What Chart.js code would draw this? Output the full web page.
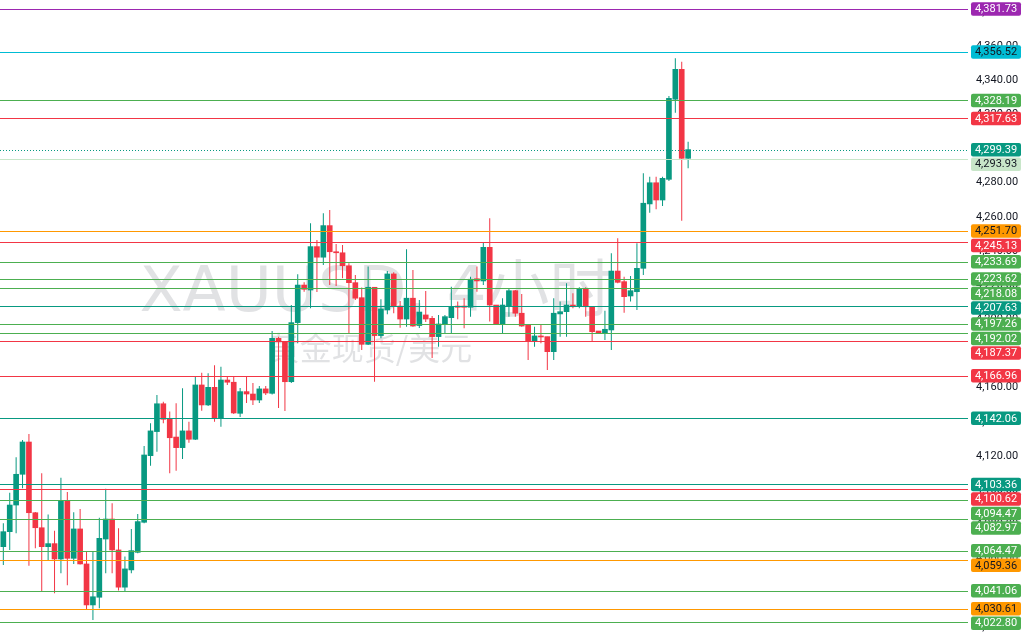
<!DOCTYPE html>
<html lang="zh">
<head>
    <meta charset="UTF-8">
    <title>XAUUSD 4小时</title>
    <style>
        body {
            margin: 0;
            background: #ffffff;
        }
        #wrap {
            width: 1024px;
            height: 635px;
        }
    </style>
</head>
<body>
    <div id="wrap"><canvas id="myChart"></canvas></div>

    <script src="https://cdn.jsdelivr.net/npm/chart.js"></script>
    <script>
        // candles, oldest first (4h bars)
        const opens = [
            4066.9, 4075.7, 4091.3, 4109.3, 4128.2, 4086.8, 4078.0, 4066.9, 4068.7, 4059.7,
            4093.7, 4060.1, 4077.3, 4056.8, 4032.8, 4037.3, 4071.4, 4083.1, 4065.0, 4043.2,
            4053.3, 4063.6, 4081.2, 4120.2, 4134.3, 4150.6, 4141.9, 4131.1, 4124.9, 4134.7,
            4129.8, 4161.6, 4149.9, 4160.2, 4142.1, 4164.5, 4163.2, 4145.0, 4157.7, 4156.3,
            4152.8, 4159.3, 4156.7, 4188.9, 4186.9, 4163.5, 4198.1, 4220.1, 4217.2, 4242.6,
            4236.4, 4254.9, 4239.6, 4239.0, 4231.4, 4221.5, 4212.7, 4185.4, 4218.8, 4190.5,
            4205.5, 4226.6, 4207.8, 4200.2, 4212.4, 4196.4, 4202.6, 4200.6, 4189.9, 4197.1,
            4201.0, 4207.8, 4207.8, 4207.1, 4223.8, 4222.5, 4242.2, 4208.4, 4197.3, 4207.8,
            4216.8, 4203.6, 4196.7, 4187.5, 4190.3, 4189.9, 4181.1, 4203.2, 4204.5, 4208.4,
            4207.8, 4217.6, 4207.4, 4193.2, 4191.9, 4193.8, 4228.3, 4222.1, 4213.7, 4216.2,
            4229.9, 4267.6, 4280.0, 4269.9, 4282.0, 4328.9, 4346.4, 4294.3
        ];
        const highs = [
            4080.6, 4098.5, 4119.3, 4129.4, 4132.9, 4087.2, 4109.9, 4085.7, 4076.3, 4107.3,
            4098.9, 4087.1, 4089.0, 4064.0, 4064.0, 4083.9, 4100.9, 4092.3, 4077.7, 4061.1,
            4077.3, 4086.1, 4125.9, 4139.2, 4155.7, 4151.8, 4146.0, 4150.9, 4159.7, 4140.1,
            4166.5, 4168.8, 4168.4, 4173.1, 4172.3, 4166.5, 4166.9, 4159.8, 4166.9, 4162.8,
            4161.0, 4161.0, 4193.2, 4189.9, 4187.3, 4208.4, 4226.4, 4221.7, 4256.3, 4246.5,
            4262.1, 4264.0, 4244.1, 4243.6, 4232.8, 4226.0, 4218.6, 4230.9, 4218.9, 4211.8,
            4228.3, 4227.6, 4210.8, 4241.0, 4228.9, 4211.4, 4216.6, 4202.0, 4202.6, 4202.6,
            4219.1, 4210.4, 4212.4, 4225.0, 4230.9, 4244.9, 4259.2, 4208.4, 4212.4, 4218.4,
            4217.2, 4214.9, 4196.7, 4195.7, 4197.3, 4189.9, 4212.4, 4210.4, 4221.1, 4215.3,
            4218.8, 4218.8, 4207.4, 4193.2, 4205.1, 4238.7, 4247.5, 4225.0, 4225.4, 4244.6,
            4285.5, 4283.5, 4283.5, 4283.5, 4330.8, 4352.9, 4350.9, 4304.0
        ];
        const lows = [
            4056.2, 4065.0, 4074.8, 4101.1, 4055.8, 4066.0, 4040.6, 4059.1, 4039.6, 4051.3,
            4044.3, 4056.8, 4056.5, 4029.9, 4024.0, 4030.9, 4051.3, 4051.3, 4041.2, 4040.6,
            4051.3, 4063.0, 4080.6, 4114.3, 4122.5, 4139.2, 4109.9, 4111.4, 4118.3, 4127.8,
            4129.4, 4146.5, 4149.3, 4140.1, 4137.2, 4161.6, 4144.6, 4142.9, 4151.1, 4149.9,
            4151.1, 4155.7, 4156.0, 4148.1, 4146.4, 4162.8, 4186.0, 4216.2, 4206.5, 4216.0,
            4231.9, 4220.1, 4219.6, 4224.1, 4191.9, 4211.4, 4182.1, 4185.0, 4163.5, 4188.9,
            4203.0, 4203.6, 4195.1, 4195.7, 4195.7, 4195.0, 4198.5, 4177.4, 4184.0, 4191.9,
            4191.9, 4200.1, 4194.8, 4201.6, 4216.2, 4220.1, 4198.7, 4196.7, 4191.9, 4201.6,
            4201.6, 4195.7, 4176.2, 4184.0, 4186.0, 4170.4, 4176.2, 4189.9, 4189.9, 4206.5,
            4206.5, 4201.6, 4187.0, 4191.4, 4187.9, 4182.1, 4221.1, 4203.9, 4210.4, 4205.5,
            4226.0, 4262.5, 4264.5, 4266.4, 4281.0, 4321.0, 4257.8, 4288.5
        ];
        const closes = [
            4075.7, 4091.3, 4109.3, 4128.2, 4086.8, 4078.0, 4066.9, 4068.7, 4059.7, 4093.7,
            4060.1, 4077.3, 4056.8, 4032.8, 4037.6, 4071.8, 4083.1, 4065.0, 4043.2, 4053.9,
            4064.6, 4081.6, 4120.6, 4134.7, 4150.6, 4141.5, 4130.7, 4124.9, 4134.7, 4129.8,
            4161.6, 4149.9, 4160.2, 4142.1, 4164.5, 4163.2, 4145.2, 4157.7, 4156.3, 4152.8,
            4159.3, 4156.9, 4188.9, 4186.9, 4163.5, 4198.1, 4220.1, 4217.6, 4242.6, 4236.4,
            4254.9, 4239.6, 4239.0, 4231.4, 4221.5, 4212.4, 4185.4, 4218.8, 4190.5, 4206.1,
            4226.6, 4207.8, 4200.2, 4212.4, 4196.1, 4204.3, 4200.2, 4189.9, 4197.3, 4201.6,
            4207.4, 4207.1, 4207.1, 4223.5, 4222.5, 4242.2, 4208.4, 4197.3, 4208.4, 4216.8,
            4203.6, 4196.1, 4187.5, 4190.3, 4189.7, 4181.1, 4203.6, 4204.5, 4208.4, 4207.4,
            4217.6, 4207.4, 4192.8, 4192.2, 4194.2, 4228.3, 4221.7, 4213.3, 4216.8, 4229.9,
            4268.0, 4280.0, 4269.9, 4282.6, 4329.4, 4346.4, 4294.3, 4299.39
        ];

        // horizontal levels drawn across the chart, with their label colours
        const levelPrices = [
            4381.73, 4356.52, 4328.19, 4317.63, 4299.39, 4293.93, 4251.70, 4245.13, 4233.69,
            4223.62, 4218.08, 4207.63, 4197.26, 4192.02, 4187.37, 4166.96, 4142.06, 4103.36,
            4100.62, 4094.47, 4082.97, 4064.47, 4059.36, 4041.06, 4030.61, 4022.80
        ];
        const levelColors = [
            '#9c27b0', '#00bcd4', '#4caf50', '#f23645', '#089981', '#c8e6c9', '#ff9800', '#f23645', '#4caf50',
            '#4caf50', '#4caf50', '#089981', '#4caf50', '#4caf50', '#f23645', '#f23645', '#089981', '#089981',
            '#f23645', '#4caf50', '#4caf50', '#4caf50', '#ff9800', '#4caf50', '#ff9800', '#4caf50'
        ];
        const currentPrice = 4299.39;

        const tickValues = [4020, 4040, 4060, 4080, 4100, 4120, 4140, 4160, 4180, 4200,
                            4220, 4240, 4260, 4280, 4300, 4320, 4340, 4360, 4380];

        const watermarkTitle = 'XAUUSD, 4小时';
        const watermarkSub = '黄金现货/美元';

        const UP = '#089981';
        const DOWN = '#f23645';

        function fmt(v) {
            return v.toLocaleString('en-US', { minimumFractionDigits: 2, maximumFractionDigits: 2 });
        }

        // dark text on the light label colours
        function textColorFor(c) {
            if (c === '#ff9800' || c === '#00bcd4' || c === '#c8e6c9') return '#131722';
            return '#ffffff';
        }

        const bodies = opens.map((o, i) => ({ x: i + 1, y: [o, closes[i]] }));
        const wicks = lows.map((l, i) => ({ x: i + 1, y: [l, highs[i]] }));
        const candleColors = opens.map((o, i) => closes[i] >= o ? UP : DOWN);

        const levelsPlugin = {
            id: 'levels',
            beforeDatasetsDraw(chart) {
                const ctx = chart.ctx;
                ctx.save();
                ctx.fillStyle = 'rgba(120, 123, 134, 0.22)';
                ctx.textAlign = 'center';
                ctx.textBaseline = 'alphabetic';
                ctx.font = '63px "DejaVu Sans", "Noto Sans CJK SC", sans-serif';
                ctx.fillText(watermarkTitle, 376, 311);
                ctx.textBaseline = 'middle';
                ctx.font = '32px "Noto Sans CJK SC", sans-serif';
                ctx.fillText(watermarkSub, 370, 348);
                ctx.restore();
            },
            afterDatasetsDraw(chart) {
                const ctx = chart.ctx;
                const area = chart.chartArea;
                const y = chart.scales.y;
                ctx.save();
                ctx.lineWidth = 1;
                levelPrices.forEach((p, i) => {
                    const py = Math.round(y.getPixelForValue(p)) + 0.5;
                    ctx.strokeStyle = levelColors[i];
                    ctx.setLineDash(p === currentPrice ? [1, 2] : []);
                    ctx.beginPath();
                    ctx.moveTo(area.left, py);
                    ctx.lineTo(area.right, py);
                    ctx.stroke();
                });
                ctx.restore();
            },
            afterDraw(chart) {
                const ctx = chart.ctx;
                const area = chart.chartArea;
                const y = chart.scales.y;
                const h = 14.5;
                const items = levelPrices.map((p, i) => ({ p, c: levelColors[i], cy: y.getPixelForValue(p) }))
                    .sort((a, b) => a.cy - b.cy);
                let prevBottom = -Infinity;
                items.forEach(it => {
                    let top = it.cy - h / 2;
                    if (top < prevBottom) top = prevBottom;
                    it.top = top;
                    prevBottom = top + h;
                });
                ctx.save();
                ctx.font = '11px Roboto, sans-serif';
                ctx.textAlign = 'center';
                ctx.textBaseline = 'middle';
                const x0 = area.right + 3;
                const w = chart.width - x0 - 3;
                items.forEach(it => {
                    ctx.fillStyle = it.c;
                    ctx.beginPath();
                    ctx.roundRect(x0, it.top + 0.5, w, h - 1, 2);
                    ctx.fill();
                    ctx.fillStyle = textColorFor(it.c);
                    ctx.fillText(fmt(it.p), x0 + w / 2, it.top + h / 2 + 0.5);
                });
                ctx.restore();
            }
        };

        const ctx = document.getElementById('myChart').getContext('2d');
        const myChart = new Chart(ctx, {
            type: 'bar',
            data: {
                datasets: [
                    {
                        label: 'body',
                        data: bodies,
                        backgroundColor: candleColors,
                        barThickness: 5,
                        minBarLength: 1,
                        grouped: false,
                        borderWidth: 0,
                        order: 0
                    },
                    {
                        label: 'wick',
                        data: wicks,
                        backgroundColor: candleColors,
                        barThickness: 1,
                        grouped: false,
                        borderWidth: 0,
                        inflateAmount: 0,
                        order: 1
                    }
                ]
            },
            options: {
                responsive: true,
                maintainAspectRatio: false,
                animation: false,
                layout: { padding: 0 },
                plugins: {
                    legend: { display: false },
                    tooltip: { enabled: false }
                },
                scales: {
                    x: {
                        type: 'linear',
                        display: false,
                        offset: false,
                        min: 0.48,
                        max: 151.73
                    },
                    y: {
                        position: 'right',
                        min: 4015.2,
                        max: 4387.0,
                        afterFit: scale => {
                            scale.width = 56;
                            scale.paddingTop = 0;
                            scale.paddingBottom = 0;
                        },
                        afterBuildTicks: scale => {
                            scale.ticks = tickValues.map(v => ({ value: v }));
                        },
                        grid: { display: false, drawTicks: false },
                        border: { display: false },
                        ticks: {
                            crossAlign: 'center',
                            padding: 8,
                            color: '#131722',
                            font: { family: 'Roboto', size: 11 },
                            callback: v => fmt(v)
                        }
                    }
                }
            },
            plugins: [levelsPlugin]
        });
    </script>
</body>
</html>
